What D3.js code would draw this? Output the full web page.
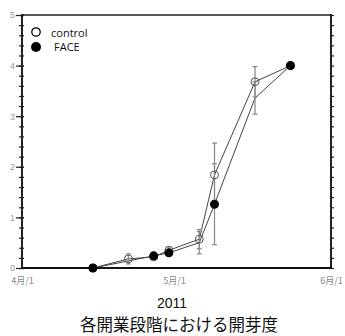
<!DOCTYPE html>
<html><head><meta charset="utf-8">
<script src="https://cdn.jsdelivr.net/npm/d3@7"></script>
<style>body{margin:0;background:#fff}svg{display:block}</style>
</head><body>
<svg id="c" width="345" height="336"></svg>
<script>
// ---- data ----
const xTickDates = ["2011-04-01","2011-05-01","2011-06-01"];
const xTickLabels = ["4月/1","5月/1","6月/1"];
const yTickValues = [0,1,2,3,4,5];
const seriesNames = ["control","FACE"];
const controlDates = ["2011-04-15","2011-04-22","2011-04-27","2011-04-30","2011-05-06","2011-05-09","2011-05-17","2011-05-24"];
const controlValues = [0, 0.18, 0.22, 0.35, 0.57, 1.84, 3.68, 4.0];
const controlErrors = [0, 0.10, 0.05, 0.07, 0.19, 0.63, 0.30, 0];
const faceDates = ["2011-04-15","2011-04-27","2011-04-30","2011-05-06","2011-05-09","2011-05-17","2011-05-24"];
const faceValues = [0, 0.24, 0.30, 0.50, 1.26, 3.36, 4.0];
const faceErrors = [0, 0.04, 0.05, 0.22, 0.80, 0.32, 0];
const faceMarked = [true, true, true, false, true, false, true];
const xLabel = "2011";
const title = "各開業段階における開芽度";

// ---- chart ----
const svg = d3.select("#c");
const L = 22, R = 331, T = 15, B = 268;
const parse = s => new Date(s + "T00:00:00Z");
const x = d3.scaleUtc().domain([parse(xTickDates[0]), parse(xTickDates[2])]).range([L, R]);
const y = d3.scaleLinear().domain([0, 5]).range([B, T]);
const jp = "'Noto Sans CJK JP', sans-serif";

// top border
svg.append("line").attr("x1", L).attr("x2", R).attr("y1", T).attr("y2", T)
  .attr("stroke", "#555").attr("stroke-width", 2);

// minor ticks
const minor = d3.range(0, 5.0001, 0.2).map(v => +v.toFixed(1));
svg.append("g").attr("transform", `translate(${L},0)`)
  .call(d3.axisLeft(y).tickValues(minor).tickSize(0).tickFormat(""))
  .call(g => g.select(".domain").remove())
  .call(g => g.selectAll(".tick line").attr("x1", -3).attr("x2", 2).attr("stroke", "#222").attr("stroke-width", 1.2));
svg.append("g").attr("transform", `translate(${R},0)`)
  .call(d3.axisRight(y).tickValues(minor).tickSize(0).tickFormat(""))
  .call(g => g.select(".domain").remove())
  .call(g => g.selectAll(".tick line").attr("x1", -1).attr("x2", 3).attr("stroke", "#222").attr("stroke-width", 1.2));

// left axis major
svg.append("g").attr("transform", `translate(${L},0)`)
  .call(d3.axisLeft(y).tickValues(yTickValues).tickSize(0).tickPadding(7).tickFormat(d3.format("d")))
  .call(g => g.select(".domain").remove())
  .call(g => g.selectAll(".tick line").attr("x1", -6).attr("x2", 2).attr("stroke", "#222").attr("stroke-width", 1.2))
  .call(g => g.selectAll(".tick text").attr("fill", "#999").style("font-size", "9px").style("font-family", "'Liberation Sans', sans-serif"));
svg.append("line").attr("x1", L).attr("x2", L).attr("y1", T - 1).attr("y2", B + 1)
  .attr("stroke", "#222").attr("stroke-width", 2);
svg.append("line").attr("x1", R).attr("x2", R).attr("y1", T - 1).attr("y2", B + 1)
  .attr("stroke", "#222").attr("stroke-width", 2);

// bottom axis
svg.append("g").attr("transform", `translate(0,${B})`)
  .call(d3.axisBottom(x).tickValues(xTickDates.map(parse)).tickSize(0).tickPadding(10)
    .tickFormat((d, i) => xTickLabels[i]))
  .call(g => g.select(".domain").remove())
  .call(g => g.selectAll(".tick text").attr("fill", "#888").style("font-size", "9px").style("font-family", jp));
svg.append("line").attr("x1", L - 1).attr("x2", R + 1).attr("y1", B).attr("y2", B)
  .attr("stroke", "#111").attr("stroke-width", 2);

// series
const ctrl = controlDates.map((d, i) => ({d: parse(d), v: controlValues[i], e: controlErrors[i], m: true}));
const face = faceDates.map((d, i) => ({d: parse(d), v: faceValues[i], e: faceErrors[i], m: faceMarked[i]}));

const line = d3.line().x(p => x(p.d)).y(p => y(p.v));
[face, ctrl].forEach(s => {
  svg.append("path").attr("d", line(s)).attr("fill", "none").attr("stroke", "#444").attr("stroke-width", 1);
});
// error bars
[face, ctrl].forEach(s => {
  const eb = svg.append("g").attr("stroke", "#888").attr("stroke-width", 1.2);
  s.filter(p => p.e > 0).forEach(p => {
    const cx = x(p.d);
    eb.append("line").attr("x1", cx).attr("x2", cx).attr("y1", y(p.v - p.e)).attr("y2", y(p.v + p.e));
    eb.append("line").attr("x1", cx - 2.5).attr("x2", cx + 2.5).attr("y1", y(p.v - p.e)).attr("y2", y(p.v - p.e));
    eb.append("line").attr("x1", cx - 2.5).attr("x2", cx + 2.5).attr("y1", y(p.v + p.e)).attr("y2", y(p.v + p.e));
  });
});
// markers
svg.append("g").selectAll("circle").data(ctrl).join("circle")
  .attr("cx", p => x(p.d)).attr("cy", p => y(p.v)).attr("r", 4)
  .attr("fill", "none").attr("stroke", "#555").attr("stroke-width", 1);
svg.append("g").selectAll("circle").data(face.filter(p => p.m)).join("circle")
  .attr("cx", p => x(p.d)).attr("cy", p => y(p.v)).attr("r", 4.5)
  .attr("fill", "#000");

// legend
const lg = svg.append("g");
lg.append("circle").attr("cx", 36).attr("cy", 32).attr("r", 4.2).attr("fill", "#fff").attr("stroke", "#000").attr("stroke-width", 1.3);
lg.append("circle").attr("cx", 36).attr("cy", 47).attr("r", 5).attr("fill", "#000");
lg.append("text").attr("x", 51).attr("y", 36.5).text(seriesNames[0])
  .style("font-size", "11px").style("font-family", "'Open Sans', sans-serif").attr("fill", "#111");
lg.append("text").attr("x", 54).attr("y", 51).text(seriesNames[1])
  .style("font-size", "11px").style("font-family", "'Open Sans', sans-serif").attr("fill", "#111");

// labels
svg.append("text").attr("x", 172).attr("y", 308).attr("text-anchor", "middle").text(xLabel)
  .style("font-size", "14px").style("font-family", "'Liberation Sans', sans-serif").attr("fill", "#111");
svg.append("text").attr("x", 179).attr("y", 331).attr("text-anchor", "middle").text(title)
  .style("font-size", "16.5px").style("font-family", jp).attr("fill", "#111");
</script>
</body></html>
